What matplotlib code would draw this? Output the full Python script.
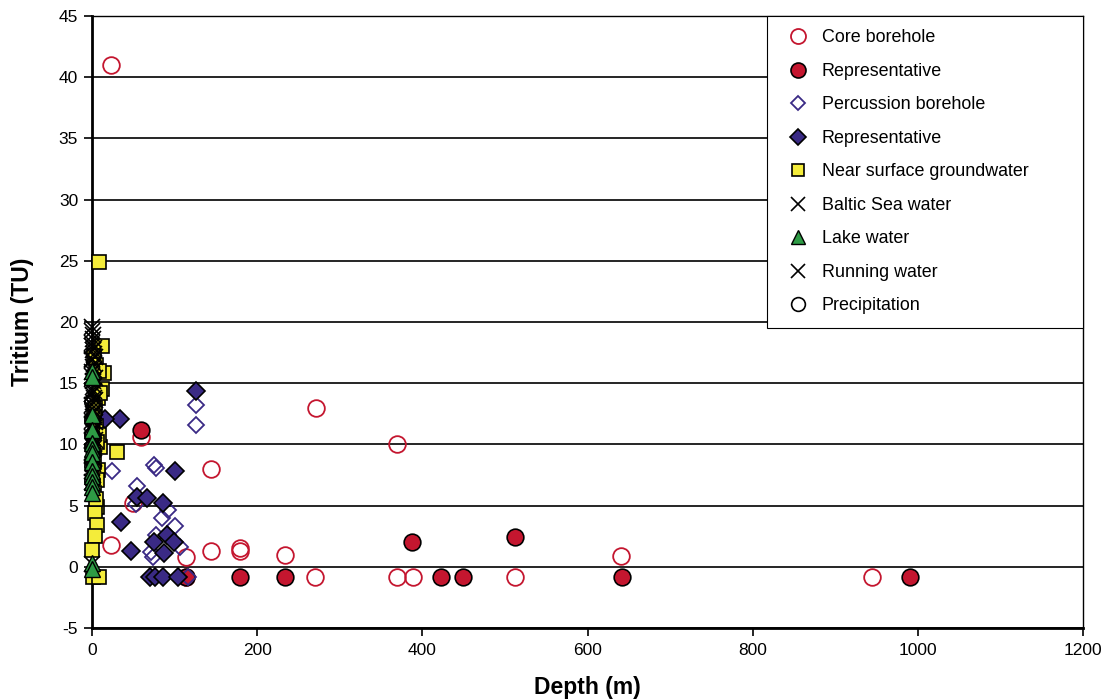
import matplotlib
matplotlib.use("Agg")
import matplotlib.pyplot as plt

plt.rcParams['font.family'] = ['Liberation Sans', 'DejaVu Sans']
plt.rcParams['axes.unicode_minus'] = False

# Core borehole samples (open) and representative samples (filled)
core_depth = [23, 59, 50, 23, 114, 144, 144, 179, 179, 234, 271, 369, 640,
              114, 270, 369, 389, 512, 944]
core_tu = [41.0, 10.6, 5.2, 1.8, 0.8, 1.3, 8.0, 1.5, 1.3, 1.0, 13.0, 10.0, 0.9,
           -0.8, -0.8, -0.8, -0.8, -0.8, -0.8]
core_rep_depth = [59, 388, 512, 114, 179, 234, 423, 449, 642, 990]
core_rep_tu = [11.2, 2.0, 2.4, -0.8, -0.8, -0.8, -0.8, -0.8, -0.8, -0.8]

# Percussion borehole samples (open) and representative samples (filled)
perc_depth = [126, 126, 24, 75, 77, 55, 53, 92, 85, 100, 78, 72, 74, 106, 116]
perc_tu = [13.2, 11.6, 7.8, 8.3, 8.1, 6.6, 5.1, 4.6, 4.0, 3.3, 2.6, 1.2, 0.8, 1.6, -0.8]
perc_rep_depth = [126, 34, 16, 100, 54, 67, 86, 35, 47, 75, 91, 99, 87, 70, 76, 86, 104]
perc_rep_tu = [14.4, 12.1, 12.1, 7.8, 5.7, 5.6, 5.2, 3.7, 1.3, 2.0, 2.6, 2.0, 1.1,
               -0.8, -0.8, -0.8, -0.8]

# Near surface groundwater
ngw_depth = [8, 12, 15, 12, 10, 30, 7, 6, 6, 4, 6, 4, 0, 1, 8, 3, 5, 7, 4, 2,
             5, 9, 6, 3, 2, 10, 8, 5]
ngw_tu = [24.9, 18.0, 15.8, 14.5, 9.8, 9.4, 7.9, 7.1, 4.9, 4.4, 3.4, 2.5, 1.4,
          -0.8, -0.8, 17.2, 16.5, 13.8, 13.0, 12.2, 11.5, 10.8, 10.2, 8.6, 6.0,
          14.2, 16.0, 5.5]

# Surface waters and precipitation (all at depth ~0)
baltic_depth = [0, 1, 0, 2, 0, 1, 0, 2, 0, 1, 0, 2, 0, 1, 0, 2, 0, 1, 0,
                3, 3, 3, 3, 3, 3, 3]
baltic_tu = [19.3, 18.6, 18.0, 17.4, 16.9, 16.3, 15.6, 14.8, 14.1, 13.5, 12.9,
             12.2, 11.6, 11.0, 10.3, 9.7, 9.1, 8.4, 7.8,
             17.9, 16.1, 14.4, 12.7, 11.2, 9.9, 8.9]
lake_depth = [0, 0, 0, 0, 0, 0, 0, 0, 0, 0, 0, 0, 0, 0, 0]
lake_tu = [16.0, 15.5, 12.4, 11.2, 10.1, 9.6, 9.3, 8.6, 7.8, 7.4, 6.9, 6.5, 6.0, 0.3, -0.2]
running_depth = [1, 0, 1, 0, 2, 0, 1, 0, 2, 0, 1, 0, 2, 0, 1, 0, 2, 0, 1, 0, 0,
                 0, 4, 4, 4, 4, 4]
running_tu = [18.9, 18.3, 17.7, 17.0, 16.6, 15.9, 15.2, 14.4, 13.8, 13.2, 12.5,
              11.9, 11.3, 10.6, 10.0, 9.4, 8.8, 8.1, 7.5, 6.9, 0.2,
              19.6, 17.1, 15.4, 13.6, 11.8, 10.4]
precip_depth = [0, 0, 0, 0, 0, 0]
precip_tu = [13.5, 12.0, 10.8, 9.8, 8.2, 7.0]

red = '#c4162f'
navy = '#3a2a85'

fig = plt.figure(figsize=(11.1, 7), dpi=100)
ax = fig.add_axes([92 / 1110, 72 / 700, 991 / 1110, 612 / 700])

kw = dict(linestyle='none', clip_on=False)
ax.plot(core_depth, core_tu, marker='o', ms=12, mfc='none', mec=red, mew=1.3,
        label='Core borehole', zorder=3, **kw)
ax.plot(core_rep_depth, core_rep_tu, marker='o', ms=12, mfc=red, mec='black', mew=1.2,
        label='Representative', zorder=4, **kw)
ax.plot(perc_depth, perc_tu, marker='D', ms=8, mfc='none', mec=navy, mew=1.3,
        label='Percussion borehole', zorder=5, **kw)
ax.plot(perc_rep_depth, perc_rep_tu, marker='D', ms=9.5, mfc=navy, mec='black', mew=1.2,
        label='Representative', zorder=6, **kw)
ax.plot(ngw_depth, ngw_tu, marker='s', ms=10, mfc='#f4ec3a', mec='black', mew=1.2,
        label='Near surface groundwater', zorder=7, **kw)
ax.plot(baltic_depth, baltic_tu, marker='x', ms=11, color='black', mew=1.2,
        label='Baltic Sea water', zorder=8, **kw)
ax.plot(lake_depth, lake_tu, marker='^', ms=11, mfc='#2e9b45', mec='black', mew=1.0,
        label='Lake water', zorder=10, **kw)
ax.plot(running_depth, running_tu, marker='x', ms=11, color='black', mew=1.2,
        label='Running water', zorder=9, **kw)
ax.plot(precip_depth, precip_tu, marker='o', ms=11, mfc='none', mec='black', mew=1.2,
        label='Precipitation', zorder=9, **kw)

ax.set_xlim(0, 1200)
ax.set_ylim(-5, 45)
ax.set_xticks(range(0, 1201, 200))
ax.set_yticks(range(-5, 46, 5))
ax.yaxis.grid(True, color='black', linewidth=1.2)
ax.set_axisbelow(True)

for side in ['top', 'right']:
    ax.spines[side].set_linewidth(1.0)
for side in ['left', 'bottom']:
    ax.spines[side].set_linewidth(2.0)
ax.tick_params(axis='both', direction='out', length=6, width=1.2, labelsize=12.5)
ax.tick_params(axis='y', pad=4)
ax.tick_params(axis='x', pad=5)

ax.set_xlabel('Depth (m)', fontsize=16.5, fontweight='bold', labelpad=13)
ax.set_ylabel('Tritium (TU)', fontsize=16.5, fontweight='bold', labelpad=18)

# legend box pinned to the top right corner of the plot area
leg = ax.legend(loc='upper left', bbox_to_anchor=(675 / 991, 0, 316 / 991, 1.0),
                mode='expand', borderaxespad=0, fontsize=12.9, frameon=True,
                fancybox=False, edgecolor='black', framealpha=1,
                handlelength=2.0, handletextpad=0.3, labelspacing=0.92,
                borderpad=0.75, markerscale=0.9)
leg.get_frame().set_linewidth(0.8)
leg.set_zorder(20)

fig.savefig('out.png', dpi=100)
